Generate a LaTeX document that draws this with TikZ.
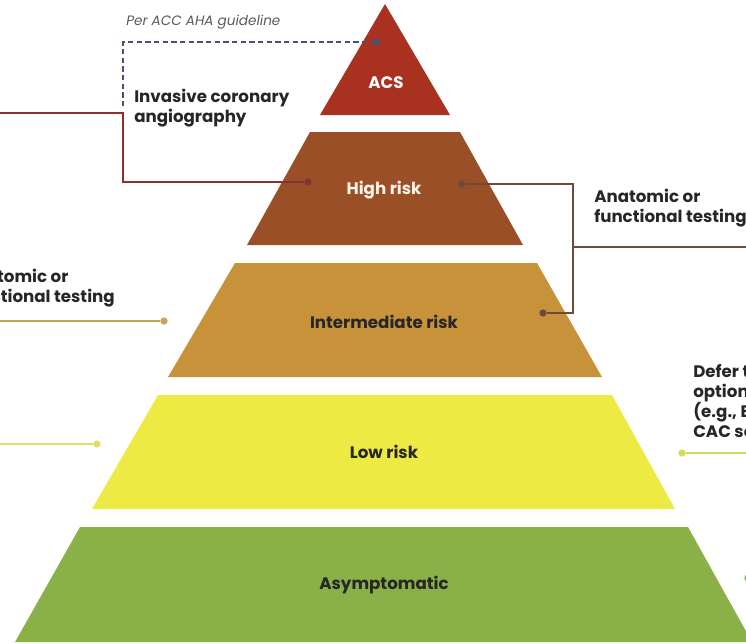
\documentclass[tikz,border=0pt]{standalone}
\usepackage{fontspec}
\setmainfont{Poppins}
\usetikzlibrary{positioning}
\definecolor{acsfill}{HTML}{A8321F}
\definecolor{highfill}{HTML}{9A4F26}
\definecolor{interfill}{HTML}{C8923A}
\definecolor{lowfill}{HTML}{EEEA44}
\definecolor{asymfill}{HTML}{8AB148}
\definecolor{guidecol}{HTML}{4A5078}
\definecolor{redline}{HTML}{8E2F2F}
\definecolor{brownline}{HTML}{6E4A3A}
\definecolor{goldline}{HTML}{C4A55A}
\definecolor{yline}{HTML}{E2DE62}
\definecolor{ygline}{HTML}{D3DC58}
\tikzset{
    tier/.style={font=\bfseries\fontsize{12.5}{15}\selectfont, inner sep=0.75pt},
    lbl/.style={font=\bfseries\fontsize{12.5}{15}\selectfont, align=left, inner sep=0.75pt, text=black!85},
    pin/.style={circle, fill=#1, minimum size=5.5pt, inner sep=0pt},
    link/.style={draw=#1, line width=1.1pt},
}
\begin{document}
\begin{tikzpicture}[x=0.75pt,y=0.75pt,yscale=-1,xscale=1]
    \useasboundingbox (0,0) rectangle (746,643);
    \clip (0,0) rectangle (746,643);
    % pyramid tiers
    \fill[acsfill]   (385,4) -- (450,115) -- (320,115) -- cycle;
    \fill[highfill]  (310,132) -- (460,132) -- (523,245) -- (247,245) -- cycle;
    \fill[interfill] (235,263) -- (537,263) -- (602,377) -- (168,377) -- cycle;
    \fill[lowfill]   (158,395) -- (612,395) -- (675,509) -- (92,509) -- cycle;
    \fill[asymfill]  (80,527) -- (688,527) -- (752,642) -- (15,642) -- cycle;
    \node[tier, text=white] (acs) at (386,83) {ACS};
    \node[tier, text=white!92!orange] (high) at (384,190) {High risk};
    \node[tier, text=black!85] (inter) at (384,322) {Intermediate risk};
    \node[tier, text=black!85] (low) at (384,452) {Low risk};
    \node[tier, text=black!85] (asym) at (384,585) {Asymptomatic};
    % pins
    \node[pin=guidecol]  (pacs)   at (376,42) {};
    \node[pin=redline]   (phighl) at (308,182) {};
    \node[pin=brownline] (phighr) at (462,184) {};
    \node[pin=brownline] (pinterr) at (543,313) {};
    \node[pin=goldline]  (pinterl) at (164,321) {};
    \node[pin=yline]     (plowl)  at (97,444) {};
    \node[pin=ygline]    (plowr)  at (682,453) {};
    \node[pin=asymfill]  (pasymr) at (748,578) {};
    % free ends
    \coordinate (guideend) at (123,107);
    \coordinate (redend)   at (0,113);
    \coordinate (bjoin)    at (573,247);
    \coordinate (brownend) at (746,247);
    \coordinate (goldend)  at (0,321);
    \coordinate (yend)     at (0,444);
    \coordinate (ygend)    at (746,453);
    % connectors
    \draw[draw=guidecol, line width=1pt, dash pattern={on 4pt off 2.5pt}] (pacs.center) -| (guideend);
    \draw[link=redline] (redend) -- ++(123,0) |- (phighl);
    \draw[link=brownline] (phighr) -- ++(111,0) |- (pinterr);
    \draw[link=brownline] (bjoin) -- (brownend);
    \draw[link=goldline] (goldend) -- (pinterl);
    \draw[link=yline] (yend) -- (plowl);
    \draw[link=ygline] (plowr) -- (ygend);
    % labels
    \node[anchor=west, inner sep=0.75pt, font=\itshape\fontsize{10.2}{12}\selectfont, text=black!65] (guide) at (125,22) {Per ACC AHA guideline};
    \node[lbl, anchor=west] (ica) at (133,108) {Invasive coronary\\angiography};
    \node[lbl, anchor=west] (anatr) at (593,208) {Anatomic or\\functional testing};
    \node[lbl, anchor=east] (anatl) at (116,288) {Anatomic or\\functional testing};
    \node[lbl, anchor=west] (defer) at (692,403) {Defer testing or\\optional testing\\(e.g., ETT or\\CAC score)};
\end{tikzpicture}
\end{document}
